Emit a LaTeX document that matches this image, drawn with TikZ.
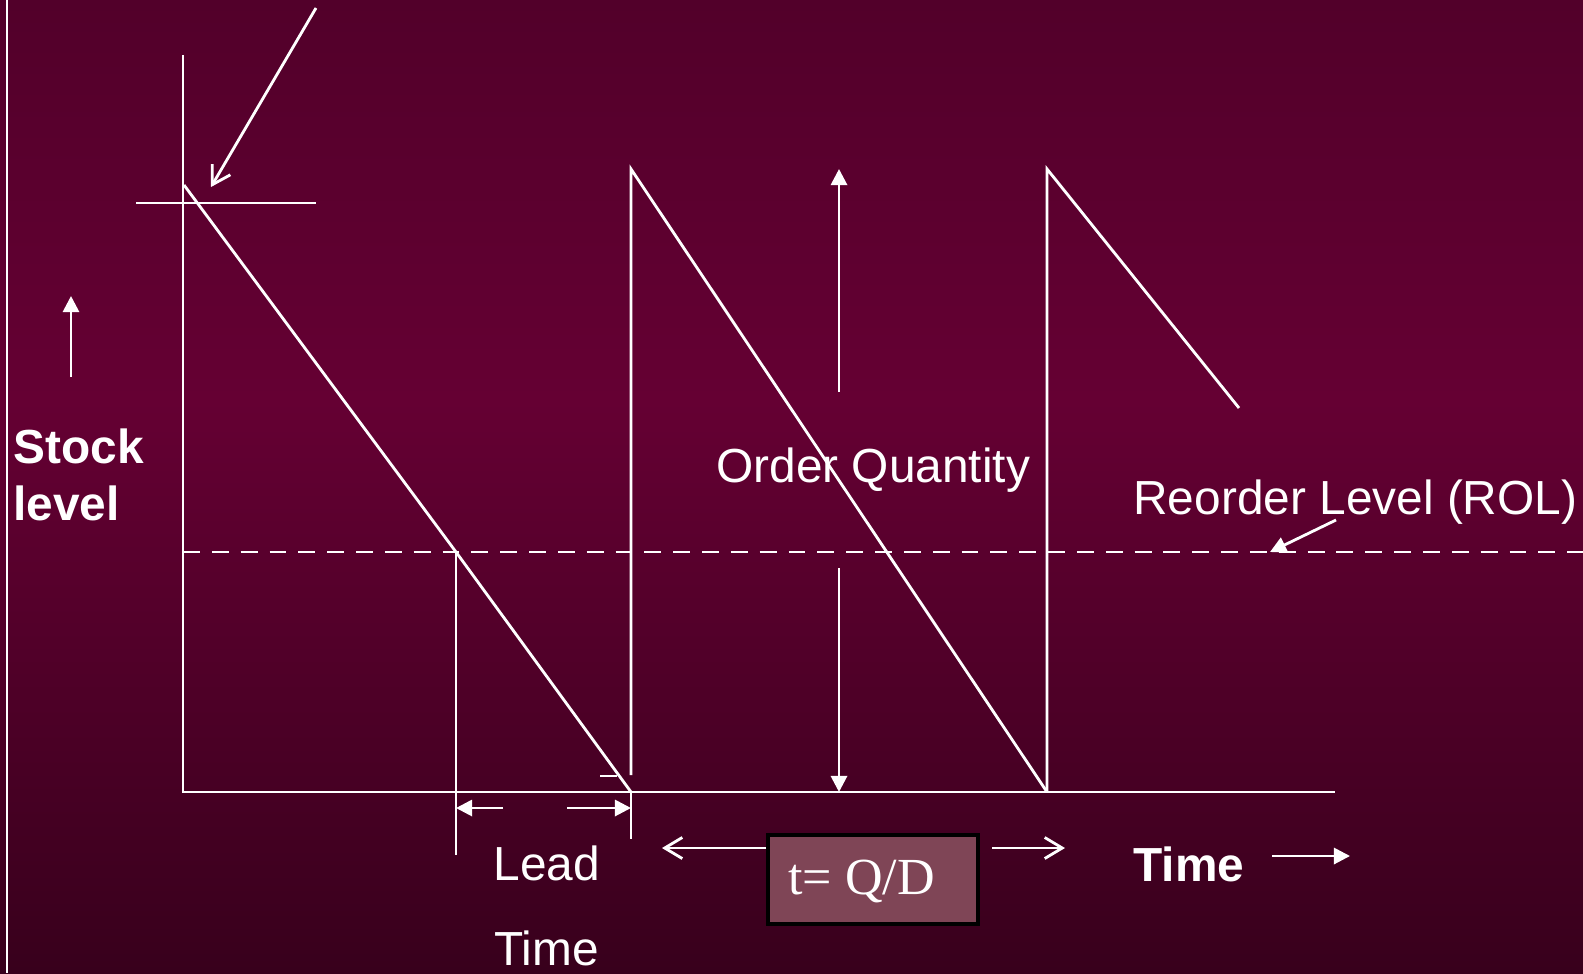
\documentclass[tikz,border=0pt]{standalone}
\usepackage{fontspec}
\setmainfont{Liberation Sans}
\newfontfamily\serifface{Liberation Serif}
\usetikzlibrary{arrows.meta}
\definecolor{bgtop}{HTML}{52002A}
\definecolor{bgmid}{HTML}{650033}
\definecolor{bgbot}{HTML}{38001C}
\definecolor{boxfill}{HTML}{7F4556}
\tikzset{
  fa/.style={-{Triangle[length=4.6pt,width=4.6pt]}},
  oa/.style={-{Straight Barb[length=5pt,width=6pt]}},
  lbl/.style={anchor=base west, inner sep=0pt, text=white, font=\fontsize{13.6}{16}\selectfont},
  rol/.style={dash pattern=on 4.8pt off 3.4pt},
}
\begin{document}
\begin{tikzpicture}[x=0.01cm, y=-0.01cm, line width=0.8pt, white]
\shade[top color=bgtop, bottom color=bgmid] (0,0) rectangle (1583,401);
\shade[top color=bgmid, bottom color=bgbot] (0,400) rectangle (1583,973);
\useasboundingbox (0,0) rectangle (1583,973);
% stock curve corners
\coordinate (O) at (183,792);
\coordinate (Yt) at (183,55);
\coordinate (Xe) at (1335,792);
\coordinate (P0) at (184,185);
\coordinate (R1) at (456,552);
\coordinate (Z1) at (631,792);
\coordinate (P1) at (631,169);
\coordinate (Z2) at (1047,792);
\coordinate (P2) at (1047,169);
\coordinate (E3) at (1239,408);
\draw (7,0) -- (7,973);
\draw (Yt) -- (O) -- (Xe);
\draw (136,203) -- (316,203);
\draw[oa] (316,8) -- (211,187);
\draw (P0) -- (R1) -- (Z1);
\draw (R1) -- (456,855);
\draw (631,775) -- (P1) -- (Z2);
\draw (Z1) -- (631,839);
\draw (600,776) -- (617,776);
\draw (Z2) -- (P2) -- (E3);
\draw[rol] (183,552) -- (1583,552);
% arrows
\draw[fa] (71,377) -- (71,296);
\draw[fa] (503,808) -- (456,808);
\draw[fa] (567,808) -- (631,808);
\draw[fa] (839,392) -- (839,169);
\draw[fa] (839,568) -- (839,792);
\draw[fa] (1336,520) -- (1270,552);
\draw[fa] (1272,856) -- (1350,856);
% labels
\node[lbl, font=\bfseries\fontsize{13.6}{16.2}\selectfont, align=left] (stock) at (12,520) {Stock\\level};
\node[lbl] (oq) at (715,482) {Order Quantity};
\node[lbl] (rl) at (1132,514) {Reorder Level (ROL)};
\node[lbl, font=\fontsize{13.6}{24}\selectfont, align=center] (lead) at (492,965) {Lead\\Time};
\node[lbl, font=\bfseries\fontsize{13.6}{16}\selectfont] (tm) at (1132,881) {Time};
\node[draw=black, line width=1.2pt, fill=boxfill, minimum width=2.1cm, minimum height=0.89cm, anchor=north west] (qd) at (766,833) {};
\node[lbl, font=\serifface\fontsize{14.8}{17}\selectfont] (qdt) at (787,894) {t= Q/D};
\draw[oa] (766,848) -- (662,848);
\draw[oa] (992,848) -- (1065,848);
\end{tikzpicture}
\end{document}
